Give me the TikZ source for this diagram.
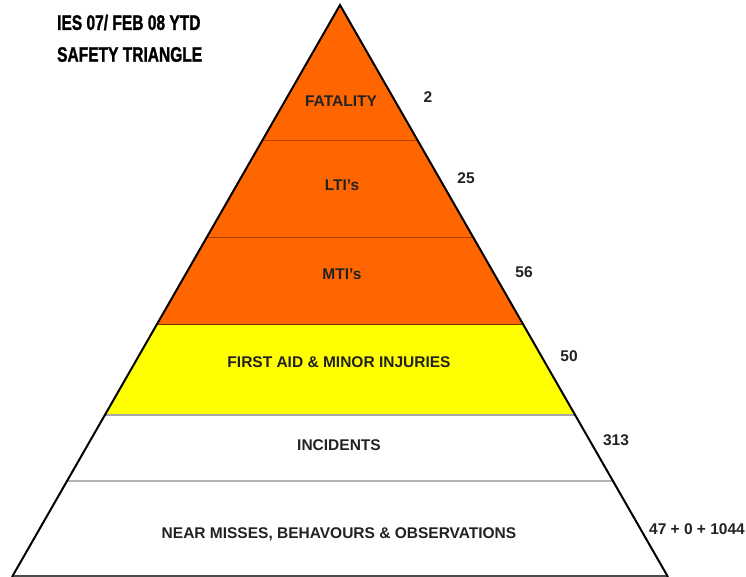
\documentclass[tikz,border=0pt]{standalone}
\usepackage{fontspec}
\setmainfont{Liberation Sans}
\newfontfamily\titlefont[FakeBold=1.6]{Liberation Sans Bold}
\definecolor{orng}{HTML}{FF6600}
\definecolor{orngline}{HTML}{B04000}
\definecolor{yel}{HTML}{FFFF00}
\definecolor{txt}{HTML}{222222}
\begin{document}
\begin{tikzpicture}[x=1pt,y=-1pt,
  bandlabel/.style={font=\fontsize{15.5}{18}\selectfont\bfseries, text=txt, inner sep=0pt},
  numlabel/.style={font=\fontsize{15.5}{18}\selectfont\bfseries, text=txt, inner sep=0pt},
  titlelabel/.style={font=\fontsize{21}{24}\titlefont, inner sep=0pt, xscale=0.74, anchor=west}]
\useasboundingbox[fill=white] (0,0) rectangle (746,577);
% bands
\fill[orng] (340,5) -- (262.6,140) -- (417.4,140) -- cycle;
\fill[orng] (262.6,140) -- (207.0,237) -- (473.0,237) -- (417.4,140) -- cycle;
\fill[orng] (207.0,237) -- (157.1,324) -- (522.9,324) -- (473.0,237) -- cycle;
\fill[yel] (157.1,324) -- (104.9,415) -- (575.1,415) -- (522.9,324) -- cycle;
% separators
\draw[orngline, line width=0.8pt] (262.6,140) -- (417.4,140);
\draw[orngline, line width=0.8pt] (207.0,237) -- (473.0,237);
\draw[orngline!70!black, line width=1pt] (157.1,324) -- (522.9,324);
\draw[gray!70, line width=1.6pt] (104.9,415) -- (575.1,415);
\draw[gray!60, line width=1.6pt] (67.1,481) -- (612.9,481);
\draw[gray!60!black, line width=1.2pt] (12,576) -- (668,576);
% outline
\draw[black, line width=2pt, line join=miter] (12,577) -- (340,5) -- (668,577);
% band labels
\node[bandlabel] (fat) at (341,101) {FATALITY};
\node[bandlabel] (lti) at (342,185) {LTI's};
\node[bandlabel] (mti) at (342,274) {MTI's};
\node[bandlabel] (fa) at (339,362) {FIRST AID \& MINOR INJURIES};
\node[bandlabel] (inc) at (339,445) {INCIDENTS};
\node[bandlabel] (nm) at (339,534) {NEAR MISSES, BEHAVOURS \& OBSERVATIONS};
% numbers
\node[numlabel] (n1) at (428,97) {2};
\node[numlabel] (n2) at (466,178) {25};
\node[numlabel] (n3) at (524,272) {56};
\node[numlabel] (n4) at (569,356) {50};
\node[numlabel] (n5) at (616,440) {313};
\node[numlabel] (n6) at (697,529) {47 + 0 + 1044};
% title
\node[titlelabel] (t1) at (57,22.5) {IES 07/ FEB 08 YTD};
\node[titlelabel] (t2) at (57,54.5) {SAFETY TRIANGLE};
\end{tikzpicture}
\end{document}
